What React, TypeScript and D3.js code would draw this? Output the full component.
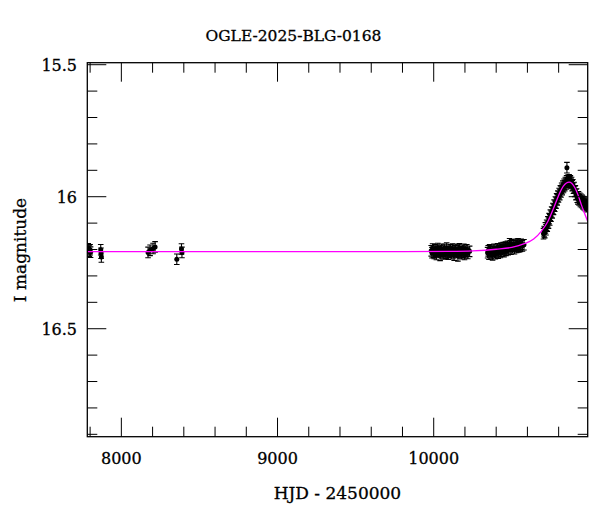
import React from "react";
import * as d3 from "d3";

// Early seasons: [HJD-2450000, I mag]
const earlyPoints: [number, number][] = [
  [7788, 16.197], [7795, 16.206], [7800, 16.201], [7803, 16.210],
  [7868, 16.201], [7870, 16.214], [7872, 16.228],
  [8171, 16.211], [8184, 16.203], [8203, 16.196], [8216, 16.190],
  [8355, 16.237], [8385, 16.198], [8388, 16.211],
];

const seasonA: [number, number][] = [
  [9984, 16.205], [9989, 16.212], [9993, 16.198], [9998, 16.210], [10003, 16.215], [10008, 16.201],
  [10012, 16.207], [10017, 16.219], [10022, 16.203], [10026, 16.196], [10031, 16.211], [10036, 16.208],
  [10041, 16.222], [10045, 16.204], [10050, 16.199], [10055, 16.213], [10060, 16.206], [10064, 16.217],
  [10069, 16.200], [10074, 16.209], [10079, 16.214], [10083, 16.195], [10088, 16.208], [10093, 16.218],
  [10098, 16.203], [10102, 16.210], [10107, 16.201], [10112, 16.216], [10117, 16.207], [10121, 16.198],
  [10126, 16.212], [10131, 16.221], [10136, 16.205], [10140, 16.200], [10145, 16.211], [10150, 16.206],
  [10155, 16.224], [10159, 16.202], [10164, 16.197], [10169, 16.213], [10174, 16.208], [10178, 16.216],
  [10183, 16.203], [10188, 16.210], [10193, 16.199], [10197, 16.219], [10202, 16.206], [10207, 16.212],
  [10212, 16.201], [10218, 16.215], [10230, 16.207],
];

const seasonB: [number, number][] = [
  [10345, 16.212], [10349, 16.205], [10354, 16.218], [10358, 16.201], [10363, 16.209], [10368, 16.215],
  [10372, 16.203], [10377, 16.220], [10381, 16.207], [10386, 16.199], [10390, 16.211], [10395, 16.216],
  [10400, 16.202], [10404, 16.209], [10409, 16.197], [10413, 16.214], [10418, 16.205], [10422, 16.199],
  [10427, 16.211], [10431, 16.195], [10436, 16.206], [10441, 16.201], [10445, 16.193], [10450, 16.208],
  [10454, 16.198], [10459, 16.191], [10463, 16.203], [10468, 16.196], [10472, 16.188], [10477, 16.201],
  [10481, 16.193], [10486, 16.178], [10490, 16.186], [10495, 16.199], [10499, 16.182], [10504, 16.193],
  [10508, 16.187], [10513, 16.184], [10517, 16.197], [10522, 16.186], [10527, 16.180], [10531, 16.192],
  [10536, 16.185], [10540, 16.178], [10545, 16.190], [10550, 16.183], [10555, 16.188], [10560, 16.180],
  [10568, 16.186], [10578, 16.182],
];

const seasonC: [number, number][] = [
  [10703, 16.140], [10707, 16.132], [10711, 16.136], [10715, 16.118], [10719, 16.125], [10723, 16.108],
  [10727, 16.112], [10731, 16.095], [10735, 16.100], [10739, 16.083], [10743, 16.088], [10747, 16.070],
  [10751, 16.074], [10755, 16.058], [10759, 16.061], [10763, 16.045], [10767, 16.048], [10771, 16.032],
  [10775, 16.036], [10779, 16.020], [10783, 16.024], [10787, 16.008], [10791, 16.012], [10795, 15.998],
  [10799, 16.001], [10803, 15.988], [10807, 15.992], [10811, 15.978], [10815, 15.982], [10819, 15.968],
  [10823, 15.973], [10827, 15.960], [10831, 15.965], [10835, 15.953], [10839, 15.958], [10843, 15.946],
  [10847, 15.952], [10851, 15.940], [10853, 15.890], [10855, 15.947], [10859, 15.938], [10863, 15.945],
  [10867, 15.936], [10871, 15.944], [10875, 15.940], [10879, 15.950], [10883, 15.946], [10887, 15.958],
  [10891, 15.955], [10895, 15.968], [10899, 15.965], [10903, 15.980], [10907, 15.978], [10911, 15.992],
  [10915, 15.990], [10919, 16.002], [10923, 16.008], [10927, 16.000], [10931, 16.012], [10935, 16.006],
  [10939, 16.018], [10943, 16.010], [10947, 16.022], [10951, 16.014], [10955, 16.026], [10959, 16.018],
  [10963, 16.030], [10967, 16.022], [10971, 16.034], [10975, 16.026], [10979, 16.038], [10983, 16.030],
];

const magError = 0.02;

// Model curve
const modelHjd = [7782, 9800, 10100, 10250, 10400, 10500, 10580, 10640, 10690, 10730, 10770, 10800, 10830, 10850, 10867, 10885, 10905, 10925, 10945, 10965, 10987];
const modelMag = [16.208, 16.208, 16.207, 16.205, 16.199, 16.192, 16.178, 16.160, 16.130, 16.095, 16.040, 15.995, 15.960, 15.948, 15.945, 15.950, 15.967, 15.995, 16.030, 16.062, 16.095];

const xMajorTicks = [8000, 9000, 10000];
const xMinorTicks = [7800, 8200, 8400, 8600, 8800, 9200, 9400, 9600, 9800, 10200, 10400, 10600, 10800];
const yMajorTicks = [15.5, 16, 16.5];
const yMinorTicks = [15.6, 15.7, 15.8, 15.9, 16.1, 16.2, 16.3, 16.4, 16.6, 16.7, 16.8, 16.9];

const title = "OGLE-2025-BLG-0168";
const xLabel = "HJD - 2450000";
const yLabel = "I magnitude";

export default function App() {
  const W = 600, H = 512;
  const left = 87.3, right = 587.7, top = 62.7, bottom = 436.7;
  const x = d3.scaleLinear().domain([7782, 10986]).range([left, right]);
  const y = d3.scaleLinear().domain([15.4924, 16.909]).range([top, bottom]);
  const font = "'DejaVu Serif', serif";
  const allPts = [...earlyPoints, ...seasonA, ...seasonB, ...seasonC];
  const model = d3.line<number>()
    .x((_, i) => x(modelHjd[i]))
    .y((_, i) => y(modelMag[i]))
    .curve(d3.curveMonotoneX)(modelHjd);
  const majLen = 19, minLen = 10;
  const textStroke = { stroke: "#000", strokeWidth: 0.3 };
  return (
    <svg width={W} height={H} style={{ position: "absolute", left: 0, top: 0, background: "#fff" }}>
      <defs>
        <clipPath id="plot">
          <rect x={left} y={top} width={right - left} height={bottom - top} />
        </clipPath>
      </defs>
      <g clipPath="url(#plot)">
        {allPts.map(([t, m], i) => (
          <g key={i} stroke="#000" strokeWidth={1.1}>
            <line x1={x(t)} x2={x(t)} y1={y(m - magError)} y2={y(m + magError)} />
            <line x1={x(t) - 2.8} x2={x(t) + 2.8} y1={y(m - magError)} y2={y(m - magError)} />
            <line x1={x(t) - 2.8} x2={x(t) + 2.8} y1={y(m + magError)} y2={y(m + magError)} />
            <circle cx={x(t)} cy={y(m)} r={2.5} fill="#000" stroke="none" />
          </g>
        ))}
        <path d={model ?? ""} fill="none" stroke="#ff00ff" strokeWidth={1.3} />
      </g>
      <g stroke="#000" strokeWidth={1}>
        {xMajorTicks.map((t) => (
          <g key={"xM" + t}>
            <line x1={x(t)} x2={x(t)} y1={bottom} y2={bottom - majLen} />
            <line x1={x(t)} x2={x(t)} y1={top} y2={top + majLen} />
          </g>
        ))}
        {xMinorTicks.map((t) => (
          <g key={"xm" + t}>
            <line x1={x(t)} x2={x(t)} y1={bottom} y2={bottom - minLen} />
            <line x1={x(t)} x2={x(t)} y1={top} y2={top + minLen} />
          </g>
        ))}
        {yMajorTicks.map((t) => (
          <g key={"yM" + t}>
            <line x1={left} x2={left + majLen} y1={y(t)} y2={y(t)} />
            <line x1={right} x2={right - majLen} y1={y(t)} y2={y(t)} />
          </g>
        ))}
        {yMinorTicks.map((t) => (
          <g key={"ym" + t}>
            <line x1={left} x2={left + minLen} y1={y(t)} y2={y(t)} />
            <line x1={right} x2={right - minLen} y1={y(t)} y2={y(t)} />
          </g>
        ))}
      </g>
      <rect x={left} y={top} width={right - left} height={bottom - top} fill="none" stroke="#000" strokeWidth={1.3} />
      <g fontFamily={font} fontSize={16} fill="#000" {...textStroke}>
        {xMajorTicks.map((t) => (
          <text key={"xl" + t} x={x(t)} y={463.5} textAnchor="middle">{t}</text>
        ))}
        {yMajorTicks.map((t) => (
          <text key={"yl" + t} x={77} y={y(t) + 6.3} textAnchor="end">{t}</text>
        ))}
      </g>
      <text x={293.5} y={41} textAnchor="middle" fontFamily={font} fontSize={15.5} {...textStroke}>{title}</text>
      <text x={337.4} y={499} textAnchor="middle" fontFamily={font} fontSize={17} {...textStroke}>{xLabel}</text>
      <text transform="translate(26,250) rotate(-90)" textAnchor="middle" fontFamily={font} fontSize={17} {...textStroke}>{yLabel}</text>
    </svg>
  );
}
